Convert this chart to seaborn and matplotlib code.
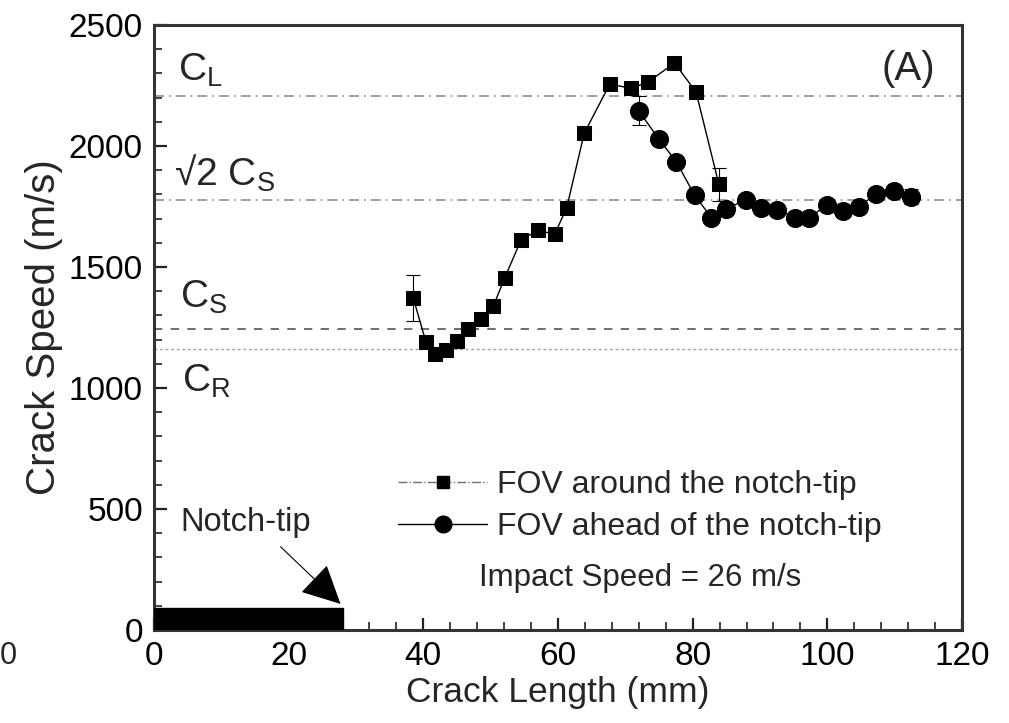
import numpy as np
import pandas as pd
import matplotlib
matplotlib.use("Agg")
import matplotlib.pyplot as plt
import seaborn as sns
from matplotlib.lines import Line2D
from matplotlib.patches import Rectangle
from matplotlib.ticker import MultipleLocator

# data
len_around = [38.5, 40.4, 41.7, 43.4, 45.0, 46.7, 48.6, 50.4, 52.1, 54.5,
              57.0, 59.5, 61.3, 63.9, 67.7, 70.9, 73.4, 77.3, 80.5, 83.9]
spd_around = [1373, 1189, 1142, 1156, 1193, 1242, 1287, 1338, 1456, 1611,
              1652, 1635, 1745, 2053, 2256, 2238, 2265, 2343, 2224, 1841]
err_around = [95, 0, 0, 0, 0, 0, 0, 0, 0, 0,
              0, 0, 0, 0, 0, 0, 0, 0, 0, 70]

len_ahead = [72.0, 75.0, 77.6, 80.3, 82.8, 85.0, 87.9, 90.2, 92.5, 95.2,
             97.3, 99.9, 102.3, 104.7, 107.3, 109.9, 112.4]
spd_ahead = [2145, 2028, 1934, 1796, 1704, 1741, 1777, 1743, 1737, 1704,
             1704, 1755, 1731, 1750, 1803, 1814, 1791]
err_ahead = [60, 0, 0, 0, 0, 0, 0, 0, 0, 0,
             0, 0, 0, 0, 0, 0, 30]

# wave speeds (m/s)
c_l = 2205
c_s2 = 1776
c_s = 1245
c_r = 1162
notch_len = 28.0

sns.set_style("ticks")
plt.rcParams['font.family'] = ['Liberation Sans', 'DejaVu Sans']
plt.rcParams['mathtext.fontset'] = 'custom'
plt.rcParams['mathtext.rm'] = 'Liberation Sans'
plt.rcParams['mathtext.it'] = 'Liberation Sans'

df_a = pd.DataFrame({'x': len_around, 'y': spd_around})
df_b = pd.DataFrame({'x': len_ahead, 'y': spd_ahead})

fig = plt.figure(figsize=(10.09, 7.23), dpi=100)
ax = fig.add_axes([0.1526, 0.1286, 0.8008, 0.8368])

# reference lines
ax.axhline(c_l, color='#909090', lw=1.2, ls=(0, (6, 3, 1, 3)))
ax.axhline(c_s2, color='#909090', lw=1.2, ls=(0, (6, 3, 1, 3)))
ax.axhline(c_s, color='#555555', lw=1.2, ls=(0, (5, 5)))
ax.axhline(c_r, color='#a0a0a0', lw=1.0, ls=(0, (2, 2)))

sns.lineplot(data=df_a, x='x', y='y', ax=ax, color='black', lw=1.0,
             marker='s', markersize=10, markeredgecolor='black', sort=False)
sns.lineplot(data=df_b, x='x', y='y', ax=ax, color='black', lw=1.0,
             marker='o', markersize=13, markeredgecolor='black', sort=False)
ax.errorbar(len_around, spd_around, yerr=err_around, fmt='none',
            ecolor='black', elinewidth=0.8, capsize=5, capthick=0.8)
ax.errorbar(len_ahead, spd_ahead, yerr=err_ahead, fmt='none',
            ecolor='black', elinewidth=0.8, capsize=5, capthick=0.8)

# notch
ax.add_patch(Rectangle((0, 0), notch_len, 90, color='black', zorder=5))
ax.annotate('', xy=(notch_len, 100), xytext=(18.5, 352),
            arrowprops=dict(arrowstyle='-|>', mutation_scale=62, lw=0.8,
                            color='black'))
ax.text(3.9, 443, 'Notch-tip', fontsize=23.5, va='center', ha='left')

# wave speed labels
ax.text(3.6, 2268, r'$\mathrm{C}_\mathrm{L}$', fontsize=28, va='baseline')
ax.text(3.0, 1834, '\u221a2 ' + r'$\mathrm{C}_\mathrm{S}$', fontsize=28,
        va='baseline')
ax.text(3.9, 1333, r'$\mathrm{C}_\mathrm{S}$', fontsize=28, va='baseline')
ax.text(4.2, 985, r'$\mathrm{C}_\mathrm{R}$', fontsize=28, va='baseline')
ax.text(108, 2318, '(A)', fontsize=29, va='center', ha='left')

# legend
handles = [
    Line2D([], [], color='#707070', lw=1.0, ls='-.', marker='s',
           markersize=9, markerfacecolor='black', markeredgecolor='black'),
    Line2D([], [], color='black', lw=1.0, marker='o', markersize=12),
]
ax.legend(handles, ['FOV around the notch-tip', 'FOV ahead of the notch-tip'],
          loc='center left', bbox_to_anchor=(0.302, 0.205), frameon=False,
          fontsize=23, handlelength=2.8, handletextpad=0.3,
          labelspacing=0.38, borderpad=0, borderaxespad=0)
ax.text(48.2, 215, 'Impact Speed = 26 m/s', fontsize=22.5, va='center')

ax.set_xlim(0, 120)
ax.set_ylim(0, 2500)
ax.xaxis.set_major_locator(MultipleLocator(20))
ax.xaxis.set_minor_locator(MultipleLocator(4))
ax.yaxis.set_major_locator(MultipleLocator(500))
ax.yaxis.set_minor_locator(MultipleLocator(100))
ax.tick_params(which='both', direction='in', colors='#222222',
               labelsize=24, labelcolor='black')
ax.tick_params(which='major', length=9, width=1.6, pad=8)
ax.tick_params(which='minor', length=6, width=1.2)
for sp in ax.spines.values():
    sp.set_linewidth(2.2)
    sp.set_color('#333333')

ax.set_xlabel('Crack Length (mm)', fontsize=25.5, labelpad=3)
ax.set_ylabel('Crack Speed (m/s)', fontsize=29, labelpad=4)

# stray label at the left edge of the scan
fig.text(0.0, 0.092, '0', fontsize=22, va='center', ha='left')

fig.savefig('out.png', dpi=100)
